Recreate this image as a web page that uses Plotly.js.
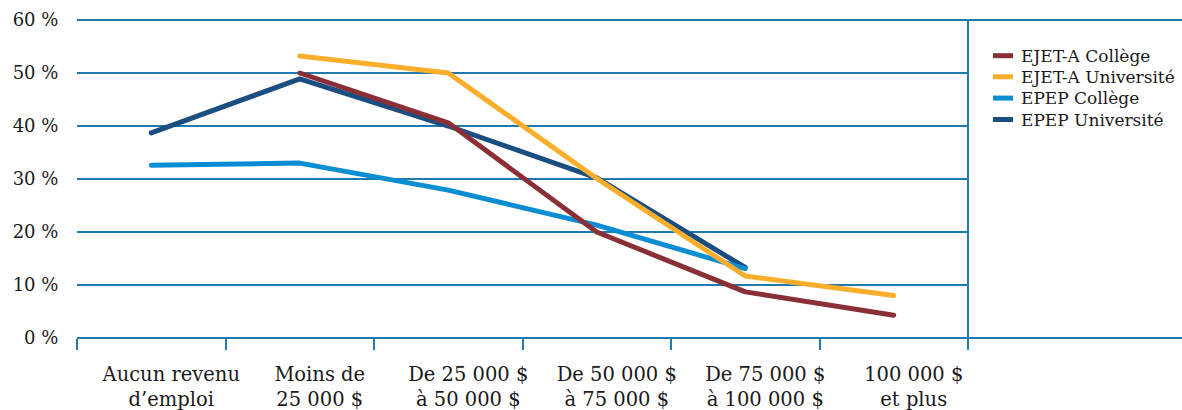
<!DOCTYPE html>
<html>
<head>
<meta charset="utf-8">
<script src="https://cdn.plot.ly/plotly-3.0.1.min.js"></script>
<style>html,body{margin:0;padding:0;background:#fff;}#chart{width:1182px;height:410px;}
#chart .scatterlayer path.js-line{stroke-linecap:round;stroke-linejoin:round;}</style>
</head>
<body>
<div id="chart"></div>
<script>
const categories = [
  "Aucun revenu<br>d’emploi",
  "Moins de<br>25 000 $",
  "De 25 000 $<br>à 50 000 $",
  "De 50 000 $<br>à 75 000 $",
  "De 75 000 $<br>à 100 000 $",
  "100 000 $<br>et plus"
];
const ejetCollege = [null, 50.0, 40.6, 20.0, 8.7, 4.3];
const ejetUniversite = [null, 53.2, 50.0, 30.1, 11.7, 8.0];
const epepCollege = [32.6, 33.0, 27.9, 21.3, 13.1, null];
const epepUniversite = [38.7, 48.9, 40.0, 30.2, 13.3, null];

const seriesNames = ["EJET-A Collège", "EJET-A Université", "EPEP Collège", "EPEP Université"];
const seriesColors = ["#8B2F37", "#FBAE2C", "#0A8ED3", "#1B4E80"];
const seriesValues = [ejetCollege, ejetUniversite, epepCollege, epepUniversite];

// plot-area geometry in pixels (used to place the hand-built legend)
const W = 1182, H = 410, ML = 77, MR = 214, MT = 20, MB = 72;
const plotW = W - ML - MR, plotH = H - MT - MB;
const px2x = p => (p - ML) / plotW;
const px2y = p => (H - MB - p) / plotH;

const traces = [];
for (let i = seriesValues.length - 1; i >= 0; i--) {
  traces.push({
    type: "scatter",
    mode: "lines",
    name: seriesNames[i],
    x: categories,
    y: seriesValues[i],
    connectgaps: false,
    showlegend: false,
    line: {color: seriesColors[i], width: 5}
  });
}

const axisBlue = "#1F7AB0";
const textColor = "#1a1a1a";
const yFont = {family: "DejaVu Serif, serif", size: 18, color: textColor};
const xFont = {family: "DejaVu Serif, serif", size: 19.5, color: textColor};

const shapes = [
  {type: "line", xref: "paper", yref: "paper", x0: 0, x1: 1.3, y0: 1, y1: 1, line: {color: axisBlue, width: 2}},
  {type: "line", xref: "paper", yref: "paper", x0: 0, x1: 1.3, y0: 0, y1: 0, line: {color: axisBlue, width: 2}},
  {type: "line", xref: "paper", yref: "paper", x0: 1, x1: 1, y0: 1, y1: -0.026, line: {color: axisBlue, width: 2}}
];
const annotations = [];
const legendRowsPx = [55.7, 76.8, 98.1, 119.5];
seriesNames.forEach((name, i) => {
  const yc = px2y(legendRowsPx[i]);
  shapes.push({type: "line", xref: "paper", yref: "paper",
    x0: px2x(993), x1: px2x(1013), y0: yc, y1: yc,
    line: {color: seriesColors[i], width: 5}});
  annotations.push({xref: "paper", yref: "paper", x: px2x(1019), y: yc,
    xanchor: "left", yanchor: "middle", showarrow: false, text: name,
    font: {family: "DejaVu Serif, serif", size: 17, color: textColor}});
});

const layout = {
  width: W,
  height: H,
  margin: {l: ML, r: MR, t: MT, b: MB},
  paper_bgcolor: "#fff",
  plot_bgcolor: "#fff",
  font: yFont,
  showlegend: false,
  xaxis: {
    type: "category",
    range: [-0.5, 5.5],
    tickson: "boundaries",
    ticks: "outside",
    ticklen: 11,
    tickwidth: 2,
    tickcolor: axisBlue,
    showgrid: false,
    showline: false,
    zeroline: false,
    tickfont: xFont,
    ticklabelstandoff: 22,
    ticklabelshift: 20,
    fixedrange: true
  },
  yaxis: {
    range: [0, 60],
    dtick: 10,
    tick0: 0,
    ticksuffix: "\u00a0%",
    showgrid: true,
    gridcolor: axisBlue,
    gridwidth: 1.5,
    zeroline: false,
    showline: false,
    ticks: "outside",
    ticklen: 14,
    tickcolor: "rgba(0,0,0,0)",
    tickfont: yFont,
    fixedrange: true
  },
  shapes: shapes,
  annotations: annotations
};

Plotly.newPlot("chart", traces, layout, {staticPlot: true, displayModeBar: false});
</script>
</body>
</html>
